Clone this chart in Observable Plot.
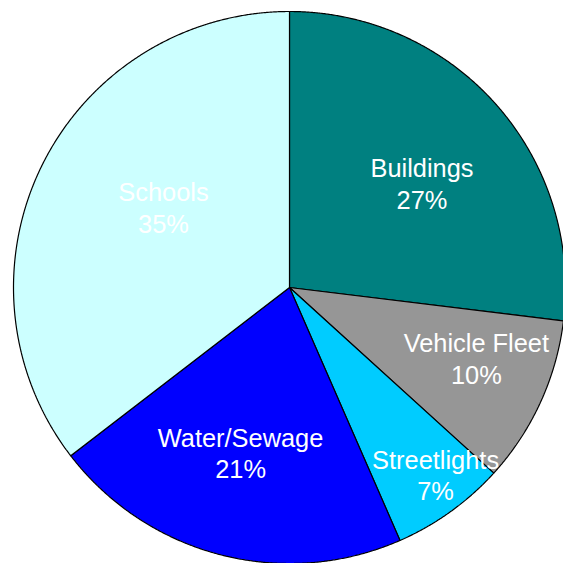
<!DOCTYPE html>
<html>
<head>
<meta charset="utf-8">
<script src="https://cdn.jsdelivr.net/npm/d3@7"></script>
<script src="https://cdn.jsdelivr.net/npm/@observablehq/plot@0.6"></script>
<style>
  html, body { margin: 0; padding: 0; background: #fff; overflow: hidden; }
  #chart svg { display: block; overflow: hidden; }
</style>
</head>
<body>
<div id="chart"></div>
<script>
// ---- Data ----
const categories = ["Buildings", "Vehicle Fleet", "Streetlights", "Water/Sewage", "Schools"];
const values = [26.9, 9.8, 6.7, 21.1, 35.4];
const colors = ["#008080", "#969696", "#00ccff", "#0000ff", "#ccffff"];

// ---- Layout settings (label placement within each slice) ----
const labelRadius = [0.607, 0.726, 0.866, 0.631, 0.538];   // fraction of pie radius
const labelAngleShift = [3.8, -3.4, -2.0, 1.9, 5.7];       // degrees from slice mid-angle

const W = 563, H = 563;
const cx = 289, cy = 287, R = 276; // pixel centre and radius

const total = d3.sum(values);
const pie = d3.pie().sort(null).value(d => d)(values);

// Build slice outlines (angles measured clockwise from 12 o'clock) in unit coordinates
const slicePts = [];
pie.forEach((p, i) => {
  const cat = categories[i];
  slicePts.push({cat, x: 0, y: 0});
  const n = Math.max(2, Math.ceil((p.endAngle - p.startAngle) / (Math.PI / 720)));
  for (let k = 0; k <= n; k++) {
    const a = p.startAngle + (p.endAngle - p.startAngle) * k / n;
    slicePts.push({cat, x: Math.sin(a), y: Math.cos(a)});
  }
});

const labels = pie.map((p, i) => {
  const a = (p.startAngle + p.endAngle) / 2 + labelAngleShift[i] * Math.PI / 180;
  const r = labelRadius[i];
  return {
    x: r * Math.sin(a),
    y: r * Math.cos(a),
    text: categories[i] + "\n" + Math.round(values[i] / total * 100) + "%"
  };
});

const chart = Plot.plot({
  width: W,
  height: H,
  margin: 0,
  x: {domain: [-cx / R, (W - cx) / R], axis: null},
  y: {domain: [-(H - cy) / R, cy / R], axis: null},
  color: {domain: categories, range: colors},
  style: {background: "#fff", overflow: "hidden"},
  marks: [
    Plot.line(slicePts, {
      x: "x", y: "y", z: "cat", fill: "cat",
      stroke: "#000", strokeWidth: 1.2, curve: "linear-closed",
      strokeLinejoin: "miter", clip: true
    }),
    Plot.text(labels, {
      x: "x", y: "y", text: "text",
      fill: "#fff", fontSize: 25.4, lineHeight: 1.24, dy: -2,
      fontFamily: "'Liberation Sans', Arial, sans-serif",
      textAnchor: "middle"
    })
  ]
});
document.getElementById("chart").appendChild(chart);
</script>
</body>
</html>
